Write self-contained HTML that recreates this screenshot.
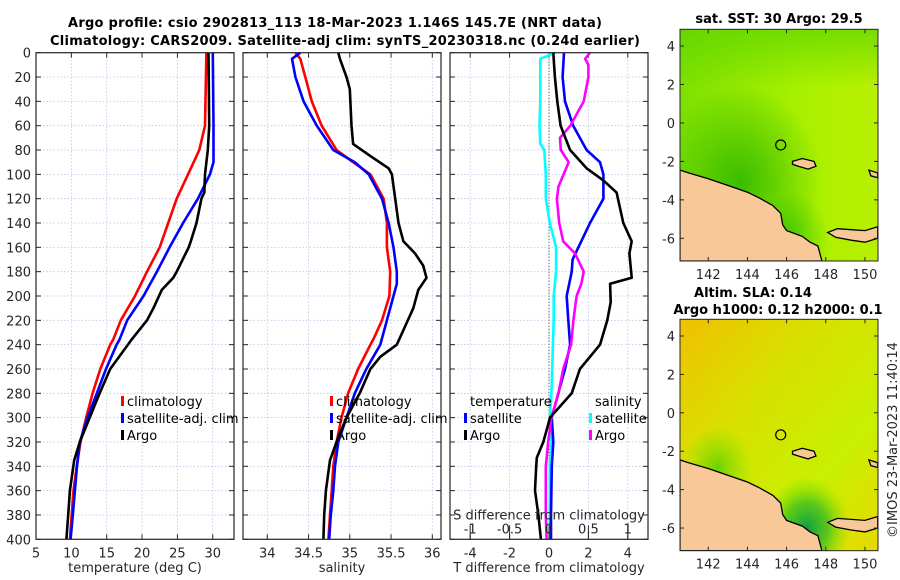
<!DOCTYPE html>
<html><head><meta charset="utf-8"><style>
body{margin:0;background:#fff;}
svg{display:block;font-family:"DejaVu Sans","Liberation Sans",sans-serif;}
</style></head><body>
<svg id="chart" width="900" height="580" viewBox="0 0 900 580" xmlns="http://www.w3.org/2000/svg">
<defs>
<radialGradient id="sstDark" cx="0.3" cy="0.66" r="0.42"><stop offset="0" stop-color="#2fb800" stop-opacity="0.9"/><stop offset="1" stop-color="#2fb800" stop-opacity="0"/></radialGradient>
<radialGradient id="sstDark2" cx="0.55" cy="0.9" r="0.2"><stop offset="0" stop-color="#30c000" stop-opacity="0.8"/><stop offset="1" stop-color="#30c000" stop-opacity="0"/></radialGradient>
<linearGradient id="sstBase" x1="0" y1="0" x2="1" y2="0"><stop offset="0" stop-color="#7ee000"/><stop offset="0.6" stop-color="#a8f000"/><stop offset="1" stop-color="#b8f000"/></linearGradient>
<linearGradient id="sstNorth" x1="0" y1="0" x2="0" y2="1"><stop offset="0" stop-color="#5ad400" stop-opacity="0.7"/><stop offset="0.25" stop-color="#5ad400" stop-opacity="0"/></linearGradient>
<linearGradient id="slaBase" x1="0" y1="0" x2="1" y2="1"><stop offset="0" stop-color="#f0c000"/><stop offset="0.35" stop-color="#d8e000"/><stop offset="0.7" stop-color="#c8f000"/><stop offset="1" stop-color="#e8d800"/></linearGradient>
<radialGradient id="slaGreen" cx="0.64" cy="0.9" r="0.22"><stop offset="0" stop-color="#10a040"/><stop offset="0.5" stop-color="#40c020" stop-opacity="0.8"/><stop offset="1" stop-color="#80e000" stop-opacity="0"/></radialGradient>
<radialGradient id="slaGreen2" cx="0.19" cy="0.64" r="0.18"><stop offset="0" stop-color="#60d000" stop-opacity="0.9"/><stop offset="1" stop-color="#80e000" stop-opacity="0"/></radialGradient>
<clipPath id="clipTop"><rect x="680" y="29" width="198" height="232"/></clipPath>
<clipPath id="clipBot"><rect x="680" y="319" width="198" height="232"/></clipPath>
</defs>
<text x="335" y="27" text-anchor="middle" font-size="13" font-weight="bold" textLength="534">Argo profile: csio 2902813_113 18-Mar-2023 1.146S 145.7E (NRT data)</text>
<text x="345" y="45" text-anchor="middle" font-size="13" font-weight="bold" textLength="590">Climatology: CARS2009. Satellite-adj clim: synTS_20230318.nc (0.24d earlier)</text>
<g id="g"></g>
</svg>
<script>
// ---- data ----
const depthTclim = [0,60,80,100,120,140,160,180,200,220,236,240,260,280,300,320,340,360,380,400];
const tempClim   = [29.1,28.9,28.1,26.5,24.9,23.7,22.5,20.7,19.0,17.0,15.9,15.5,14.1,13.0,12.1,11.3,10.75,10.3,10.05,9.8];
const depthTsat  = [0,60,90,100,120,140,160,180,200,220,236,240,260,280,300,320,340,360,380,400];
const tempSat    = [30.0,30.1,30.1,29.6,27.9,25.8,23.9,22.1,20.2,17.9,16.8,16.4,14.9,13.6,12.3,11.2,10.8,10.5,10.2,9.9];
const depthTargo = [0,60,80,100,115,120,140,155,160,180,185,195,210,220,236,240,260,280,300,320,335,360,380,400];
const tempArgo   = [29.4,29.5,29.3,28.9,28.8,28.4,27.7,26.9,26.6,24.9,24.4,22.8,21.6,20.7,18.5,18.0,15.5,14.0,12.6,11.2,10.4,9.8,9.55,9.3];

const depthSclim = [0,5,20,40,60,80,90,100,120,140,160,180,200,220,235,240,260,280,300,320,340,360,380,400];
const salClim    = [34.34,34.40,34.46,34.54,34.66,34.84,35.04,35.25,35.41,35.45,35.45,35.49,35.48,35.39,35.29,35.25,35.10,34.98,34.90,34.84,34.80,34.78,34.76,34.74];
const depthSsat  = [0,5,20,40,60,80,90,100,120,140,160,180,190,200,220,240,260,280,300,320,340,360,380,400];
const salSat     = [34.40,34.30,34.34,34.44,34.60,34.80,35.06,35.23,35.39,35.47,35.53,35.57,35.57,35.53,35.45,35.37,35.20,35.06,34.96,34.86,34.82,34.80,34.77,34.75];
const depthSargo = [0,5,20,30,60,75,85,95,100,120,140,155,165,175,185,195,210,225,240,250,260,280,300,320,335,360,380,400];
const salArgo    = [34.86,34.88,34.96,35.0,35.02,35.04,35.25,35.47,35.51,35.55,35.59,35.65,35.79,35.89,35.93,35.83,35.77,35.67,35.57,35.37,35.25,35.12,34.96,34.84,34.76,34.71,34.69,34.68];

const depthDTsat = [0,20,40,60,80,90,100,120,140,160,170,180,200,220,240,260,280,300,320,340,360,380,400];
const dTsat      = [0.76,0.69,0.81,1.23,1.91,2.59,2.76,2.76,2.08,1.49,1.2,1.15,0.9,0.98,1.07,0.81,0.47,0.14,0.22,0.14,0.12,0.1,0.1];
const depthDTargo= [0,20,40,60,80,95,105,115,140,155,165,185,190,205,220,240,260,280,300,305,320,333,340,360,380,400];
const dTargo     = [0.22,0.3,0.42,0.59,1.07,1.91,2.76,3.43,3.77,4.2,4.08,4.2,3.1,3.13,2.96,2.59,1.57,1.15,0.05,-0.03,-0.29,-0.62,-0.65,-0.71,-0.54,-0.41];
const depthDSsat = [0,5,20,40,60,75,80,100,120,140,160,180,200,220,240,260,280,300,320,340,360,380,400];
const dSsat      = [0.08,-0.11,-0.11,-0.11,-0.12,-0.11,-0.06,-0.04,-0.04,0.01,0.09,0.09,0.06,0.06,0.05,0.04,0.03,0.01,0.03,0.01,0.01,0.01,0.01];
const depthDSargo= [0,5,10,20,40,60,70,80,90,110,120,140,155,165,180,190,200,220,240,260,280,300,320,340,360,380,400];
const dSargo     = [0.52,0.46,0.5,0.5,0.44,0.27,0.14,0.15,0.25,0.12,0.1,0.13,0.18,0.33,0.44,0.41,0.35,0.31,0.28,0.18,0.12,0.03,-0.01,-0.04,-0.04,-0.04,-0.03];

const depthTicks = [0,20,40,60,80,100,120,140,160,180,200,220,240,260,280,300,320,340,360,380,400];
const tTicks = [5,10,15,20,25,30];
const sTicks = [34,34.5,35,35.5,36];
const dTTicks = [-4,-2,0,2,4];
const dSTicks = [-1,-0.5,0,0.5,1];
const lonTicks = [142,144,146,148,150];
const latTicks = [4,2,0,-2,-4,-6];
const argoLon = 145.7, argoLat = -1.146;

// ---- drawing ----
const NS='http://www.w3.org/2000/svg';
const G=document.getElementById('g');
function mk(tag,attrs,parent){const e=document.createElementNS(NS,tag);for(const k in attrs)e.setAttribute(k,attrs[k]);(parent||G).appendChild(e);return e;}
const Y0=52.7, Y1=539.3;
const yD = d => Y0 + d*(Y1-Y0)/400;
const P1={x0:36,x1:234}, P2={x0:243,x1:441}, P3={x0:450,x1:648};
const xTf = v=>36+(v-5)*7.07;
const xS = v=>267.3+(v-34)*82.5;
const xDT = v=>549+v*19.7;
const xDS = v=>549+v*78.8;

function panel(P,name,xticks,xf,labels,xlabel){
  const g=mk('g',{});
  
  
  mk('rect',{x:P.x0,y:Y0,width:P.x1-P.x0,height:Y1-Y0,fill:'#fff'},g);
  depthTicks.forEach(d=>{
    const l=mk('line',{x1:P.x0,x2:P.x1,y1:yD(d),y2:yD(d),stroke:'#b8c4e8','stroke-width':0.8,'stroke-dasharray':'1.5,2'},g);
    
    
    mk('line',{x1:P.x0,x2:P.x0+5,y1:yD(d),y2:yD(d),stroke:'#262626'},g);
    mk('line',{x1:P.x1-5,x2:P.x1,y1:yD(d),y2:yD(d),stroke:'#262626'},g);
  });
  xticks.forEach(v=>{
    const x=xf(v);
    const l=mk('line',{x1:x,x2:x,y1:Y0,y2:Y1,stroke:'#b8c4e8','stroke-width':0.8,'stroke-dasharray':'1.5,2'},g);
    
    
    mk('line',{x1:x,x2:x,y1:Y0,y2:Y0+5,stroke:'#262626'},g);
    mk('line',{x1:x,x2:x,y1:Y1-5,y2:Y1,stroke:'#262626'},g);
    const t=mk('text',{x:x,y:Y1+18,'text-anchor':'middle','font-size':13,fill:'#262626'},g);
    t.textContent=String(v);
    
    
  });
  if(labels){depthTicks.forEach(d=>{
    const t=mk('text',{x:P.x0-5,y:yD(d)+5,'text-anchor':'end','font-size':13,fill:'#262626'},g);
    t.textContent=String(d);
    
    
  });}
  const xl=mk('text',{x:(P.x0+P.x1)/2,y:572,'text-anchor':'middle','font-size':13,fill:'#262626'},g);
  xl.textContent=xlabel;
  
  
  return g;
}
function line(depths,vals,xf,color,name,P){
  const pts=depths.map((d,i)=>xf(vals[i]).toFixed(1)+','+yD(d).toFixed(1)).join(' ');
  const cp='clip'+name;
  const c=mk('clipPath',{id:cp});mk('rect',{x:P.x0,y:Y0-3,width:P.x1-P.x0,height:Y1-Y0+3},c);
  const p=mk('polyline',{points:pts,fill:'none',stroke:color,'stroke-width':2.6,'stroke-linejoin':'round','clip-path':'url(#'+cp+')'});
  
  
}
function frame(P){mk('rect',{x:P.x0,y:Y0,width:P.x1-P.x0,height:Y1-Y0,fill:'none',stroke:'#262626','stroke-width':1.2});}
function legendEntry(x,y,color,text,name){
  const g=mk('g',{});
  
  
  mk('rect',{x:x,y:y-10,width:3,height:10,fill:color},g);
  const t=mk('text',{x:x+6,y:y,'font-size':13,fill:'#000'},g);t.textContent=text;
}

panel(P1,'temperature-panel',tTicks,xTf,true,'temperature (deg C)');
line(depthTclim,tempClim,xTf,'#ff0000','temp-climatology-line',P1);
line(depthTsat,tempSat,xTf,'#0000ff','temp-satellite-line',P1);
line(depthTargo,tempArgo,xTf,'#000000','temp-argo-line',P1);
frame(P1);
legendEntry(121,406,'#ff0000','climatology','legend-climatology');
legendEntry(121,423,'#0000ff','satellite-adj. clim','legend-satellite');
legendEntry(121,440,'#000000','Argo','legend-argo');

panel(P2,'salinity-panel',sTicks,xS,false,'salinity');
line(depthSclim,salClim,xS,'#ff0000','sal-climatology-line',P2);
line(depthSsat,salSat,xS,'#0000ff','sal-satellite-line',P2);
line(depthSargo,salArgo,xS,'#000000','sal-argo-line',P2);
frame(P2);
legendEntry(330,406,'#ff0000','climatology','legend-sal-climatology');
legendEntry(330,423,'#0000ff','satellite-adj. clim','legend-sal-satellite');
legendEntry(330,440,'#000000','Argo','legend-sal-argo');

panel(P3,'difference-panel',dTTicks,xDT,false,'T difference from climatology');
mk('line',{x1:xDT(0),x2:xDT(0),y1:Y0,y2:Y1,stroke:'#404040','stroke-width':1,'stroke-dasharray':'1,2'});
line(depthDSsat,dSsat,xDS,'#00ffff','dS-satellite-line',P3);
line(depthDTsat,dTsat,xDT,'#0000ff','dT-satellite-line',P3);
line(depthDSargo,dSargo,xDS,'#ff00ff','dS-argo-line',P3);
line(depthDTargo,dTargo,xDT,'#000000','dT-argo-line',P3);
dSTicks.forEach(v=>{
  mk('line',{x1:xDS(v),x2:xDS(v),y1:Y1-14,y2:Y1,stroke:'#262626'});
  const t=mk('text',{x:xDS(v),y:Y1-6,'text-anchor':'middle','font-size':13,fill:'#262626'});
  t.textContent=String(v);
  
  
});
{const t=mk('text',{x:549,y:Y1-20,'text-anchor':'middle','font-size':13,fill:'#262626'});t.textContent='S difference from climatology';

}
frame(P3);
{const t=mk('text',{x:470,y:406,'font-size':13});t.textContent='temperature';


const t2=mk('text',{x:595,y:406,'font-size':13});t2.textContent='salinity';

}
legendEntry(464,423,'#0000ff','satellite','legend-dT-satellite');
legendEntry(464,440,'#000000','Argo','legend-dT-argo');
legendEntry(589,423,'#00ffff','satellite','legend-dS-satellite');
legendEntry(589,440,'#ff00ff','Argo','legend-dS-argo');

// ---- maps ----
const lonL=140.56, lonR=150.65, latT=4.87, latB=-7.18;
const coast=[[140.56,-2.45],[141,-2.6],[142,-2.9],[143,-3.25],[144,-3.6],[144.6,-3.9],[145.3,-4.3],[145.7,-4.7],[145.8,-5.3],[146,-5.6],[146.8,-5.9],[147.2,-6.2],[147.6,-6.4],[147.8,-7.18],[140.56,-7.18]];
const newBritain=[[148.1,-5.7],[148.6,-5.5],[149.3,-5.55],[150,-5.6],[150.65,-5.4],[150.65,-6.0],[150,-6.2],[149.3,-6.1],[148.5,-5.95]];
const manus=[[146.3,-2.0],[146.8,-1.85],[147.4,-2.0],[147.5,-2.25],[147.1,-2.4],[146.6,-2.25],[146.3,-2.15]];
const nIreland=[[150.2,-2.45],[150.65,-2.6],[150.65,-2.85],[150.3,-2.75]];
function map(y0,y1,name,bg,overlays,clip){
  const xm=v=>680+(v-lonL)*197.7/(lonR-lonL);
  const ym=v=>y0+(latT-v)*(y1-y0)/(latT-latB);
  const g=mk('g',{'clip-path':'url(#'+clip+')'});
  
  
  mk('rect',{x:680,y:y0,width:198,height:y1-y0,fill:bg},g);
  overlays.forEach(o=>mk('rect',{x:680,y:y0,width:198,height:y1-y0,fill:o},g));
  const poly=(arr,nm)=>{const p=mk('polygon',{points:arr.map(a=>xm(a[0]).toFixed(1)+','+ym(a[1]).toFixed(1)).join(' '),fill:'#f8c898',stroke:'#000','stroke-width':1.3},g);
    
    };
  poly(coast,'new-guinea-coast');poly(newBritain,'new-britain');poly(manus,'manus-island');poly(nIreland,'new-ireland');
  const c=mk('circle',{cx:xm(argoLon),cy:ym(argoLat),r:5,fill:'none',stroke:'#000','stroke-width':1.2},g);
  
  
  mk('rect',{x:680,y:y0,width:198,height:y1-y0,fill:'none',stroke:'#262626','stroke-width':1});
  lonTicks.forEach(v=>{mk('line',{x1:xm(v),x2:xm(v),y1:y0,y2:y0+4,stroke:'#262626'});mk('line',{x1:xm(v),x2:xm(v),y1:y1-4,y2:y1,stroke:'#262626'});
    const t=mk('text',{x:xm(v),y:y1+18,'text-anchor':'middle','font-size':13,fill:'#262626'});t.textContent=String(v);
    
    });
  latTicks.forEach(v=>{mk('line',{x1:680,x2:684,y1:ym(v),y2:ym(v),stroke:'#262626'});mk('line',{x1:874,x2:878,y1:ym(v),y2:ym(v),stroke:'#262626'});
    const t=mk('text',{x:675,y:ym(v)+5,'text-anchor':'end','font-size':13,fill:'#262626'});t.textContent=String(v);
    
    });
}
map(29.3,261,'sst-map','url(#sstBase)',['url(#sstNorth)','url(#sstDark)','url(#sstDark2)'],'clipTop');
map(319.3,550.7,'sla-map','url(#slaBase)',['url(#slaGreen2)','url(#slaGreen)'],'clipBot');
function txt(x,y,s,name,extra){const t=mk('text',Object.assign({x:x,y:y,'text-anchor':'middle','font-size':13,'font-weight':'bold'},extra||{}));t.textContent=s;
  
  }
txt(779,23,'sat. SST: 30 Argo: 29.5','sst-map-title');
txt(753,297,'Altim. SLA: 0.14','sla-map-title');
txt(778,314,'Argo h1000: 0.12 h2000: 0.1','sla-map-subtitle');
txt(0,0,'©IMOS 23-Mar-2023 11:40:14','imos-timestamp',{'font-weight':'normal','transform':'translate(897,440) rotate(-90)',fill:'#262626'});
</script>
</body></html>
